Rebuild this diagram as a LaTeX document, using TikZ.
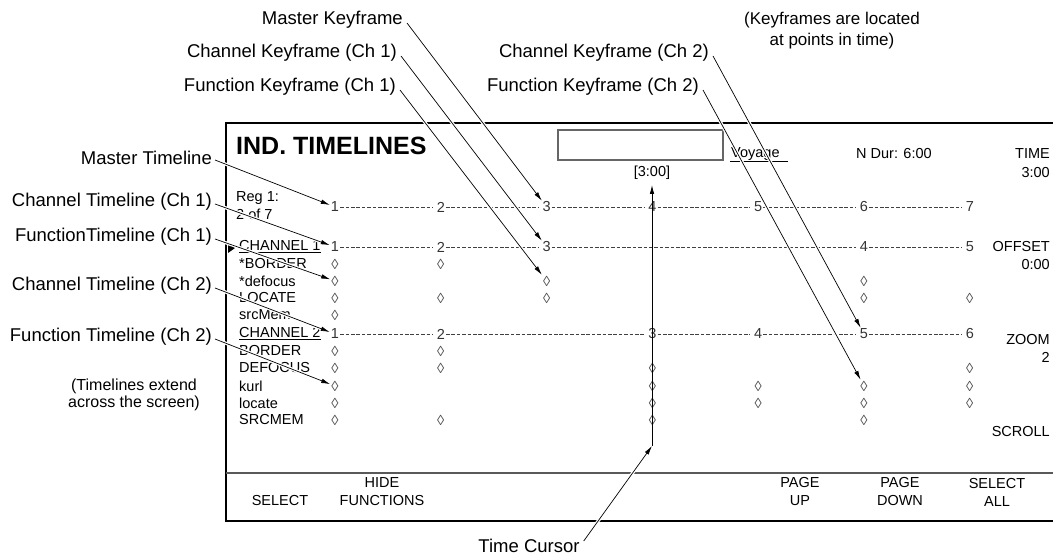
\documentclass[tikz,border=0pt]{standalone}
\usepackage{fontspec}
\setmainfont{Liberation Sans}
\usetikzlibrary{arrows.meta}

\tikzset{
  callout/.style={font=\fontsize{18.5}{22}\selectfont, inner sep=1pt},
  note/.style={font=\fontsize{17}{21}\selectfont, align=center, inner sep=1pt},
  scrtext/.style={font=\fontsize{14.5}{18}\selectfont, inner sep=1pt},
  tick/.style={scrtext, text=black!80},
  keymark/.style={scrtext, text=black!70},
  tline/.style={line width=0.8pt, black!75, dash pattern=on 3.6pt off 1.8pt},
  leader/.style={-{Latex[length=9pt,width=4.5pt]}, line width=0.7pt,
    preaction={draw=white, line width=3.2pt, -}},
}

\begin{document}
\begin{tikzpicture}[x=1pt, y=-1pt]
  \useasboundingbox (0,0) rectangle (1053,556);
  \draw[line width=2.8pt] (1053,123) -- (226,123) -- (226,521) -- (1053,521);
  \draw[black!65, line width=1.3pt] (226,473) -- (1053,473);

  \node[font=\bfseries\fontsize{25}{30}\selectfont, anchor=west, inner sep=0pt] (title) at (236,146) {IND. TIMELINES};
  \node[draw=black!60, line width=1.2pt, minimum width=165pt, minimum height=30pt] (tbox) at (640.5,145) {};
  \node[scrtext, anchor=west] (voy) at (730,154) {Voyage};
  \draw[line width=0.7pt] (voy.south west) -- ++(58,0);
  \node[scrtext, anchor=west] (ndur) at (855,154) {N Dur: 6:00};
  \node[scrtext, anchor=east] (ktime) at (1051,154) {TIME};
  \node[scrtext, anchor=east] (vtime) at (1051,173) {3:00};
  \node[scrtext, anchor=east] (koff) at (1051,247) {OFFSET};
  \node[scrtext, anchor=east] (voff) at (1051,265) {0:00};
  \node[scrtext, anchor=east] (kzoom) at (1051,340) {ZOOM};
  \node[scrtext, anchor=east] (vzoom) at (1051,357) {2};
  \node[scrtext, anchor=east] (kscroll) at (1051,432) {SCROLL};

  \node[scrtext, anchor=west] (reg) at (235,198) {Reg 1:};
  \node[scrtext, anchor=west] (regof) at (235,214) {2 of 7};
  \fill (228,243) -- (235,248) -- (228,253) -- cycle;
  \node[scrtext, anchor=west] (nch1) at (238,247) {\underline{CHANNEL 1}};
  \node[scrtext, anchor=west] (nbd1) at (238,264) {*BORDER};
  \node[scrtext, anchor=west] (ndf1) at (238,281) {*defocus};
  \node[scrtext, anchor=west] (nlc1) at (238,298) {LOCATE};
  \node[scrtext, anchor=west] (nsm1) at (238,315) {srcMem};
  \node[scrtext, anchor=west] (nch2) at (238,334) {\underline{CHANNEL 2}};
  \node[scrtext, anchor=west] (nbd2) at (238,351) {BORDER};
  \node[scrtext, anchor=west] (ndf2) at (238,368) {DEFOCUS};
  \node[scrtext, anchor=west] (nku2) at (238,386) {kurl};
  \node[scrtext, anchor=west] (nlc2) at (238,403) {locate};
  \node[scrtext, anchor=west] (nsm2) at (238,420) {SRCMEM};

  \foreach \n in {1,...,7}
    \node[tick] (m\n) at ({229.2+105.8*\n},207) {\n};
  \foreach \n/\c in {1/1,2/2,3/3,4/6,5/7}
    \node[tick] (a\n) at ({229.2+105.8*\c},247) {\n};
  \foreach \n/\c in {1/1,2/2,3/4,4/5,5/6,6/7}
    \node[tick] (b\n) at ({229.2+105.8*\c},334) {\n};
  \foreach \n [evaluate=\n as \k using int(\n+1)] in {1,...,6}
    \draw[tline] (m\n.east) -- ([xshift=-3pt]m\k.west);
  \foreach \n [evaluate=\n as \k using int(\n+1)] in {1,...,4}
    \draw[tline] (a\n.east) -- ([xshift=-3pt]a\k.west);
  \foreach \n [evaluate=\n as \k using int(\n+1)] in {1,...,5}
    \draw[tline] (b\n.east) -- ([xshift=-3pt]b\k.west);

  \foreach \row/\y/\cols in {bd/264/{1,2}, df/281/{1,3,6}, lc/298/{1,2,3,6,7},
      sm/315/{1}, bdb/351/{1,2}, dfb/368/{1,2,4,7}, ku/386/{1,4,5,6,7},
      lcb/403/{1,4,5,6,7}, smb/420/{1,2,4,6}}
    \foreach \c in \cols
      \node[keymark] (\row\c) at ({229.2+105.8*\c},\y) {\char"25CA};

  \node[scrtext] (tnow) at (652,173) {[3:00]};
  \coordinate (curbot) at (652,446);
  \draw[-{Latex[length=9pt,width=4.5pt]}, line width=0.8pt, shorten >=4pt] (curbot) -- (tnow.south);

  \node[scrtext] (msel) at (280,501) {SELECT};
  \node[scrtext, align=center] (mhide) at (382,492) {HIDE\\FUNCTIONS};
  \node[scrtext, align=center] (mpup) at (800,492) {PAGE\\UP};
  \node[scrtext, align=center] (mpdn) at (900,492) {PAGE\\DOWN};
  \node[scrtext, align=center] (mall) at (997,492) {SELECT\\ALL};

  \node[callout, anchor=east] (lmt) at (213,158) {Master Timeline};
  \node[callout, anchor=east] (lct1) at (213,202) {Channel Timeline (Ch 1)};
  \node[callout, anchor=east] (lft1) at (213,237) {FunctionTimeline (Ch 1)};
  \node[callout, anchor=east] (lct2) at (213,286) {Channel Timeline (Ch 2)};
  \node[callout, anchor=east] (lft2) at (213,337) {Function Timeline (Ch 2)};
  \node[note, font=\fontsize{16}{16.5}\selectfont] (ltl) at (134,395) {(Timelines extend\\across the screen)};

  \node[callout, anchor=east] (lmk) at (404,20) {Master Keyframe};
  \node[callout, anchor=east] (lck1) at (398,53) {Channel Keyframe (Ch 1)};
  \node[callout, anchor=east] (lfk1) at (397,87) {Function Keyframe (Ch 1)};
  \node[callout, anchor=east] (lck2) at (710,53) {Channel Keyframe (Ch 2)};
  \node[callout, anchor=east] (lfk2) at (700,87) {Function Keyframe (Ch 2)};
  \node[note] (lkf) at (832,31) {(Keyframes are located\\at points in time)};
  \node[callout] (tcur) at (529,546) {Time Cursor};

  \draw[leader] ([xshift=2pt,yshift=-2pt]lmt.east) -- (m1);
  \draw[leader] ([xshift=2pt,yshift=-2pt]lct1.east) -- (a1);
  \draw[leader] ([xshift=2pt,yshift=-2pt]lft1.east) -- (df1);
  \draw[leader] ([xshift=2pt,yshift=-2pt]lct2.east) -- (b1);
  \draw[leader] ([xshift=2pt,yshift=-2pt]lft2.east) -- (ku1);
  \draw[leader] ([xshift=3pt,yshift=-3pt]lmk.east) -- (m3);
  \draw[leader] ([xshift=3pt,yshift=-3pt]lck1.east) -- (a3);
  \draw[leader] ([xshift=3pt,yshift=-3pt]lfk1.east) -- (df3);
  \draw[leader] ([xshift=3pt,yshift=-3pt]lck2.east) -- (b5);
  \draw[leader] ([xshift=3pt,yshift=-3pt]lfk2.east) -- (ku6);
  \draw[leader] ([xshift=3pt,yshift=5pt]tcur.east) -- (curbot);
\end{tikzpicture}
\end{document}
